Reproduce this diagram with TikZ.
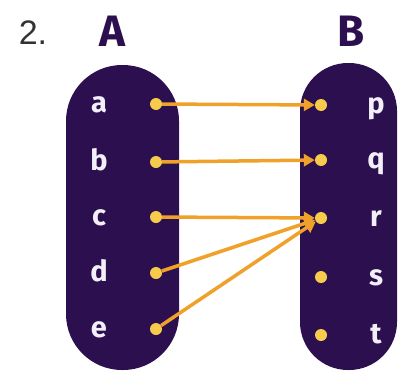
\documentclass[tikz,border=0pt]{standalone}
\usepackage{fontspec}
\setmainfont{Fira Sans}
\newfontfamily\numfont{Liberation Sans}
\usetikzlibrary{arrows.meta}
\definecolor{setpurple}{HTML}{2C0F4E}
\definecolor{maporange}{HTML}{F0A12A}
\definecolor{dotyellow}{HTML}{F7CC4C}
\definecolor{elemwhite}{HTML}{F3EFF8}
\tikzset{%
  tipM/.tip={Triangle[length=11pt,width=12pt]},
  elem/.style={text=elemwhite, font=\fontsize{29}{29}\selectfont\bfseries, anchor=base, inner sep=0pt},
  setname/.style={text=setpurple, font=\fontsize{44}{44}\selectfont\bfseries, inner sep=0pt},
  dot/.style={circle, fill=dotyellow, inner sep=0pt, minimum size=12pt},
  map/.style={maporange, line width=3.5pt, -tipM}
}

\begin{document}
\begin{tikzpicture}[x=1pt,y=-1pt]
\useasboundingbox (0,0) rectangle (409,372);
% the two sets
\fill[setpurple, rounded corners=56pt] (66,65) rectangle (179,370);
\fill[setpurple, rounded corners=48pt] (300,63) rectangle (397,370);
\node[text=black!80, font=\numfont\fontsize{34}{34}\selectfont, inner sep=0pt] (num) at (33,33) {2.};
\node[setname] (setA) at (112,31) {A};
\node[setname] (setB) at (351,31) {B};
% elements of A
\foreach \l/\y in {a/104,b/162,c/217,d/273,e/329}{
  \node[elem] (\l) at (99,\y+8) {\l};
  \node[dot] (d\l) at (156,\y) {};
}
% elements of B
\foreach \l/\y in {p/105,q/160,r/218,s/277,t/335}{
  \node[elem] (\l) at (376,\y+8) {\l};
  \node[dot] (d\l) at (321,\y) {};
}
% the mapping
\foreach \s/\t in {a/p,b/q,c/r,d/r,e/r}
  \draw[map] (d\s) -- (d\t);
\end{tikzpicture}
\end{document}
